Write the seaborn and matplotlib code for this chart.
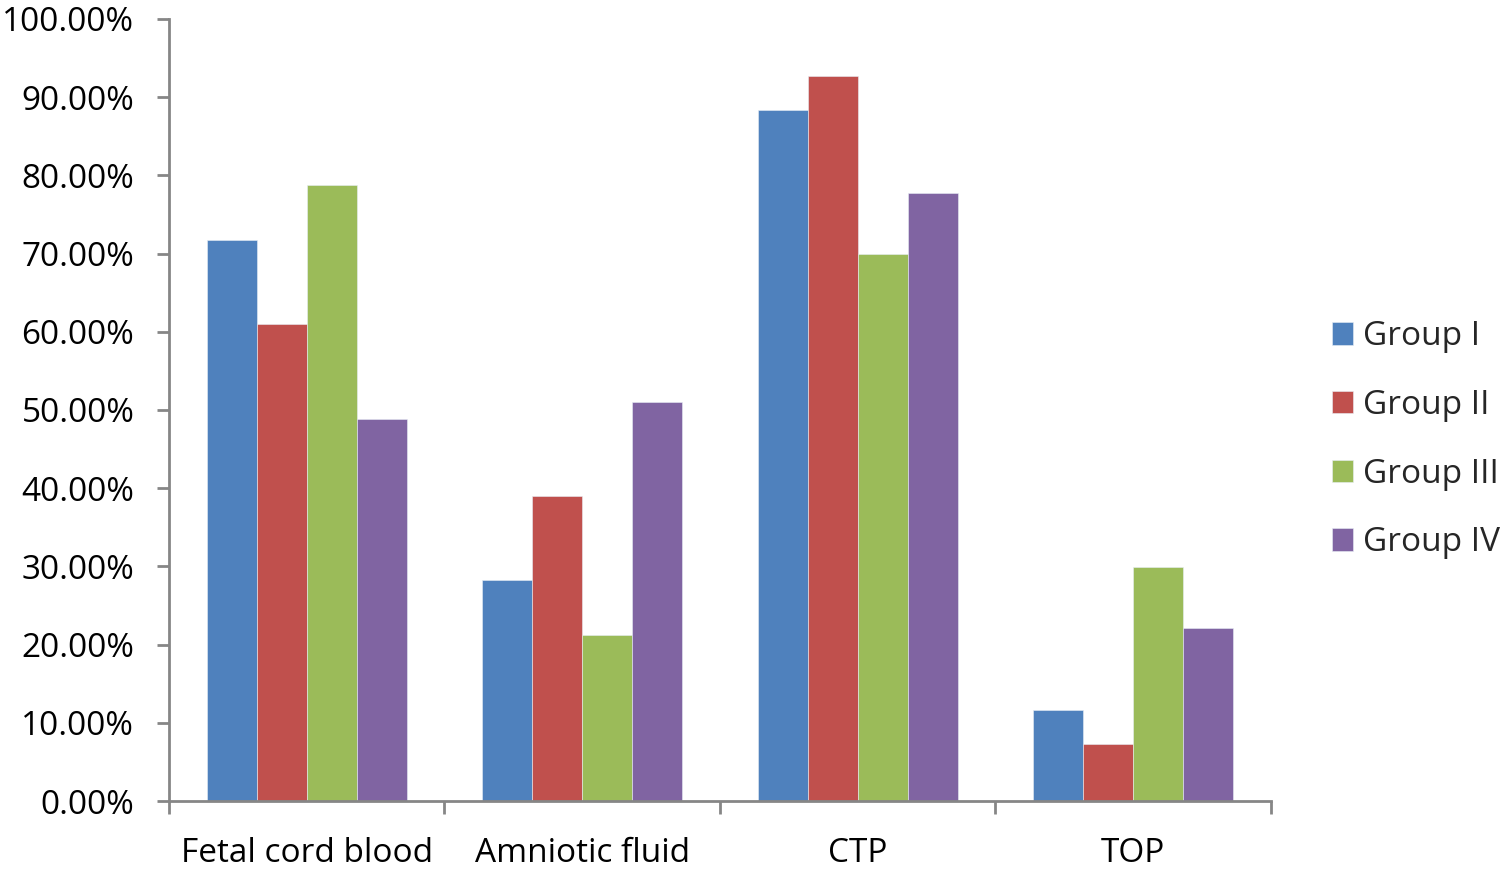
import pandas as pd
import matplotlib.pyplot as plt
import seaborn as sns
from matplotlib.ticker import FixedLocator, FuncFormatter

sns.set_style("white")
plt.rcParams['font.family'] = ['Open Sans', 'DejaVu Sans']

# data
categories = ['Fetal cord blood', 'Amniotic fluid', 'CTP', 'TOP']
groups = ['Group I', 'Group II', 'Group III', 'Group IV']
group1 = [71.7, 28.3, 88.4, 11.6]
group2 = [61.0, 39.0, 92.7, 7.3]
group3 = [78.8, 21.2, 69.9, 29.9]
group4 = [48.8, 51.0, 77.7, 22.1]
colors = ['#4F81BD', '#C0504D', '#9BBB59', '#8064A2']

rows = []
for g, vals in zip(groups, [group1, group2, group3, group4]):
    for c, v in zip(categories, vals):
        rows.append({'category': c, 'group': g, 'value': v})
df = pd.DataFrame(rows)

fig = plt.figure(figsize=(15.02, 8.74), dpi=100)
ax = fig.add_axes([0.1125, 0.0835, 0.7337, 0.8948])

sns.barplot(data=df, x='category', y='value', hue='group', palette=colors,
            saturation=1, width=0.725, ax=ax, edgecolor='#E8EEF5', linewidth=0.4)

ax.set_ylim(0, 100)
ax.set_xlim(-0.5, 3.5)
ax.set_yticks(range(0, 101, 10))
ax.yaxis.set_major_formatter(FuncFormatter(lambda v, p: f'{v:.2f}%'))
ax.set_xlabel('')
ax.set_ylabel('')

ax.tick_params(axis='x', which='major', length=0, labelsize=24, pad=26, labelcolor='black')
ax.xaxis.set_minor_locator(FixedLocator([-0.5, 0.5, 1.5, 2.5, 3.5]))
ax.tick_params(axis='x', which='minor', bottom=True, length=9, width=2, color='#868686', direction='out')
ax.tick_params(axis='y', left=True, length=9, width=2, color='#868686', labelsize=24, pad=16,
               direction='out', labelcolor='black')

for s in ['top', 'right']:
    ax.spines[s].set_visible(False)
for s in ['left', 'bottom']:
    ax.spines[s].set_color('#868686')
    ax.spines[s].set_linewidth(2)

ax.legend(loc='center left', bbox_to_anchor=(1.055, 0.462), frameon=False, fontsize=24,
          handlelength=0.65, handleheight=0.65, handletextpad=0.3, labelspacing=1.07,
          borderaxespad=0, borderpad=0)

fig.savefig('out.png', dpi=100)
